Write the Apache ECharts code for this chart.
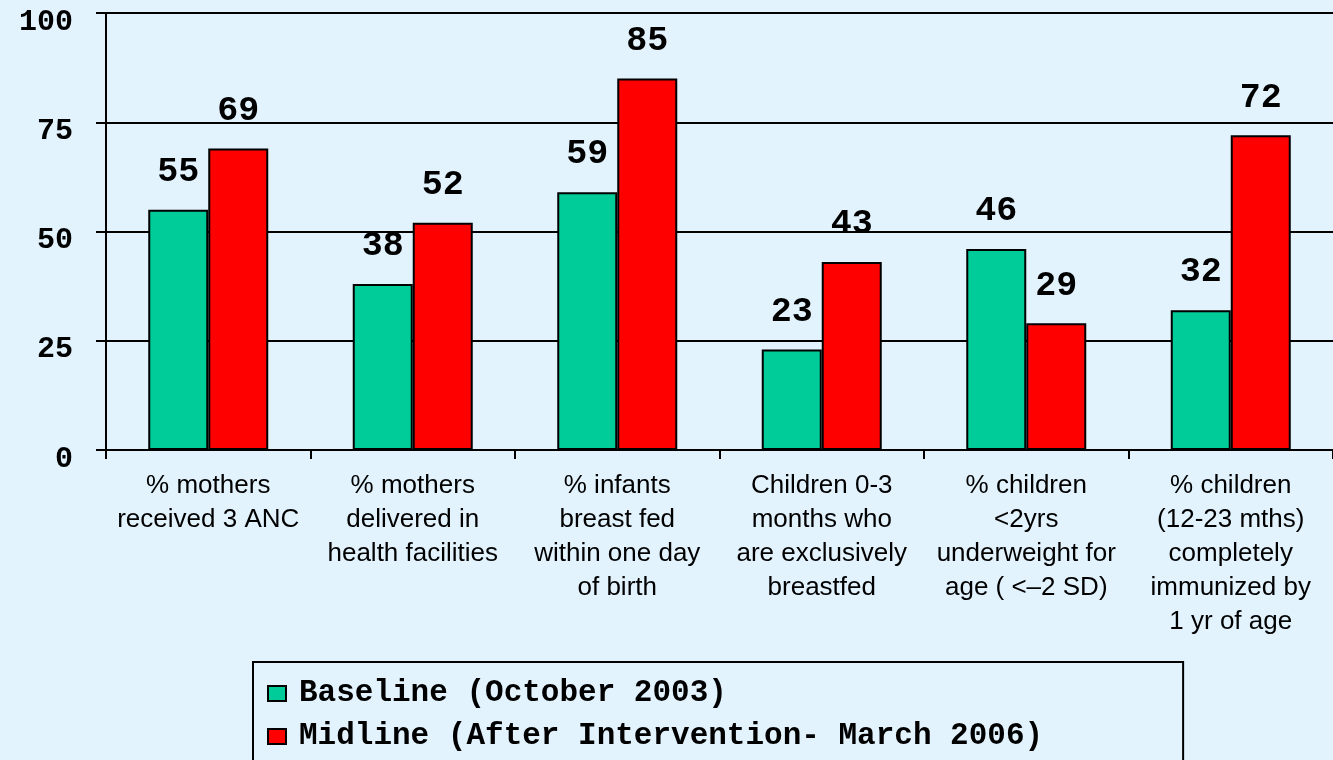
<!DOCTYPE html>
<html>
<head>
<meta charset="utf-8">
<script src="https://cdn.jsdelivr.net/npm/echarts@6/dist/echarts.min.js"></script>
<style>
  html, body { margin: 0; padding: 0; background: #E2F3FE; }
  #chart { width: 1333px; height: 760px; }
</style>
</head>
<body>
<div id="chart"></div>
<script>
const categories = [
  "% mothers\nreceived 3 ANC",
  "% mothers\ndelivered in\nhealth facilities",
  "% infants\nbreast fed\nwithin one day\nof birth",
  "Children 0-3\nmonths who\nare exclusively\nbreastfed",
  "% children\n<2yrs\nunderweight for\nage ( <\u20132 SD)",
  "% children\n(12-23 mths)\ncompletely\nimmunized by\n1 yr of age"
];
const seriesNames = ["Baseline (October 2003)", "Midline (After Intervention- March 2006)"];
const baseline = [55, 38, 59, 23, 46, 32];
const midline = [69, 52, 85, 43, 29, 72];
const yTicks = [0, 25, 50, 75, 100];

const mono = "'Liberation Mono', 'Courier New', monospace";
const sans = "'Liberation Sans', Arial, sans-serif";

const chart = echarts.init(document.getElementById('chart'), null, { renderer: 'canvas' });

const labelCfg = {
  show: true,
  position: 'top',
  distance: 20,
  fontFamily: mono,
  fontWeight: 'bold',
  fontSize: 35,
  color: '#000'
};

chart.setOption({
  backgroundColor: '#E2F3FE',
  animation: false,
  grid: { left: 106, top: 13, right: -7, bottom: 310, containLabel: false },
  legend: {
    orient: 'vertical',
    left: 253,
    top: 662,
    height: 200,
    padding: [16, 140, 14, 14],
    itemWidth: 18,
    itemHeight: 15,
    itemGap: 12,
    borderColor: '#000',
    borderWidth: 2,
    backgroundColor: '#E2F3FE',
    icon: 'rect',
    textStyle: {
      fontFamily: mono,
      fontWeight: 'bold',
      fontSize: 31,
      lineHeight: 31,
      padding: [0, 0, 0, 8],
      color: '#000'
    },
    data: seriesNames
  },
  xAxis: {
    type: 'category',
    data: categories,
    axisLine: { lineStyle: { color: '#000', width: 2 } },
    axisTick: { show: true, length: 9, lineStyle: { color: '#000', width: 2 } },
    axisLabel: {
      interval: 0,
      margin: 19,
      fontFamily: sans,
      fontSize: 26,
      lineHeight: 34,
      color: '#000',
      align: 'center'
    }
  },
  yAxis: {
    type: 'value',
    min: 0,
    max: 100,
    interval: 25,
    axisLine: { show: true, lineStyle: { color: '#000', width: 2 } },
    axisTick: { show: true, length: 10, lineStyle: { color: '#000', width: 2 } },
    splitLine: { show: true, lineStyle: { color: '#000', width: 2 } },
    axisLabel: {
      margin: 33,
      fontFamily: mono,
      fontWeight: 'bold',
      fontSize: 30,
      lineHeight: 18,
      verticalAlign: 'top',
      color: '#000',
      formatter: function (v) { return yTicks.indexOf(v) >= 0 ? String(v) : ''; }
    }
  },
  series: [
    {
      name: seriesNames[0],
      type: 'bar',
      data: baseline,
      barWidth: 60,
      barGap: '0%',
      itemStyle: { color: '#00CC99', borderColor: '#000', borderWidth: 2 },
      label: labelCfg
    },
    {
      name: seriesNames[1],
      type: 'bar',
      data: midline,
      barWidth: 60,
      barGap: '0%',
      itemStyle: { color: '#FF0000', borderColor: '#000', borderWidth: 2 },
      label: labelCfg
    }
  ]
});
</script>
</body>
</html>
